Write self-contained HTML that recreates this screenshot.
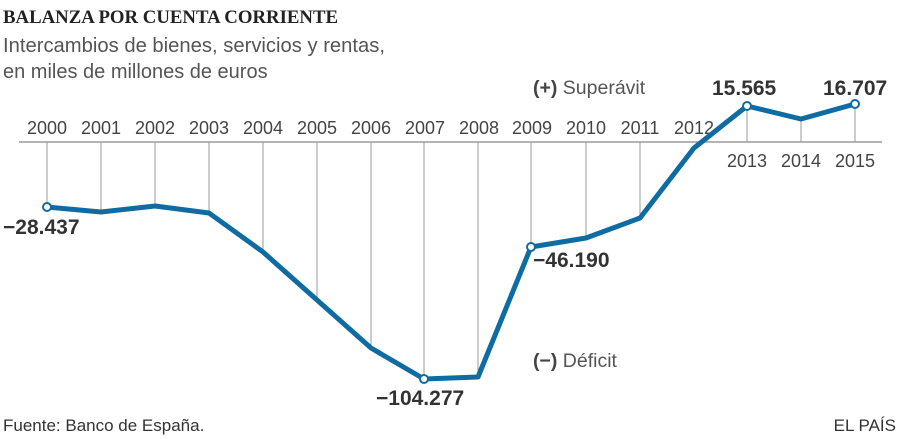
<!DOCTYPE html>
<html><head><meta charset="utf-8"><style>
html,body{margin:0;padding:0;background:#fff;width:900px;height:439px;overflow:hidden}
svg{display:block}
</style></head><body>
<svg width="900" height="439" viewBox="0 0 900 439" xmlns="http://www.w3.org/2000/svg" font-family="Liberation Sans, sans-serif">
<text x="3" y="23" font-family="Liberation Serif, serif" font-weight="bold" font-size="19" fill="#222" textLength="335" lengthAdjust="spacingAndGlyphs">BALANZA POR CUENTA CORRIENTE</text>
<text x="3" y="52" font-size="20" fill="#555" textLength="382" lengthAdjust="spacingAndGlyphs">Intercambios de bienes, servicios y rentas,</text>
<text x="3" y="78" font-size="20" fill="#555">en miles de millones de euros</text>
<line x1="19" y1="142" x2="882" y2="142" stroke="#888" stroke-width="1.3"/>
<g stroke="#999" stroke-width="1">
<line x1="47" y1="142" x2="47" y2="207"/><line x1="101" y1="142" x2="101" y2="212"/>
<line x1="155" y1="142" x2="155" y2="206"/><line x1="209" y1="142" x2="209" y2="213"/>
<line x1="263" y1="142" x2="263" y2="252"/><line x1="317" y1="142" x2="317" y2="300"/>
<line x1="371" y1="142" x2="371" y2="348"/><line x1="424" y1="142" x2="424" y2="379"/>
<line x1="478" y1="142" x2="478" y2="377"/><line x1="531" y1="142" x2="531" y2="247"/>
<line x1="586" y1="142" x2="586" y2="238"/><line x1="640" y1="142" x2="640" y2="218"/>
<line x1="747" y1="106" x2="747" y2="142"/><line x1="801" y1="119" x2="801" y2="142"/>
<line x1="855" y1="104" x2="855" y2="142"/>
</g>
<g font-size="18" fill="#444" text-anchor="middle">
<text x="47" y="134">2000</text><text x="101" y="134">2001</text><text x="155" y="134">2002</text>
<text x="209" y="134">2003</text><text x="263" y="134">2004</text><text x="317" y="134">2005</text>
<text x="371" y="134">2006</text><text x="425" y="134">2007</text><text x="479" y="134">2008</text>
<text x="532" y="134">2009</text><text x="586" y="134">2010</text><text x="640" y="134">2011</text>
<text x="694" y="134">2012</text>
<text x="747" y="167">2013</text><text x="801" y="167">2014</text><text x="855" y="167">2015</text>
</g>
<polyline fill="none" stroke="#0f6ca3" stroke-width="5" stroke-linejoin="round" points="47,207 101,212 155,206 209,213 263,252 317,300 371,348 424,379 478,377 531,247 586,238 640,218 694,148 747,106 801,119 855,104"/>
<g fill="#fff" stroke="#0f6ca3" stroke-width="2">
<circle cx="47" cy="207" r="4"/><circle cx="424" cy="379" r="4"/><circle cx="531" cy="247" r="4"/>
<circle cx="747" cy="106" r="4"/><circle cx="855" cy="104" r="4"/>
</g>
<g font-size="21" font-weight="bold" fill="#333">
<text x="3" y="234">−28.437</text>
<text x="376" y="405">−104.277</text>
<text x="533" y="267">−46.190</text>
<text x="712" y="95">15.565</text>
<text x="823" y="95">16.707</text>
</g>
<text x="533" y="94" font-size="19.5" fill="#555"><tspan font-weight="bold" fill="#444">(+)</tspan> Superávit</text>
<text x="533" y="367" font-size="19.5" fill="#555"><tspan font-weight="bold" fill="#444">(−)</tspan> Déficit</text>
<text x="3" y="431" font-size="17" fill="#333">Fuente: Banco de España.</text>
<text x="896" y="431" font-size="17" fill="#333" text-anchor="end">EL PAÍS</text>
</svg>
</body></html>
